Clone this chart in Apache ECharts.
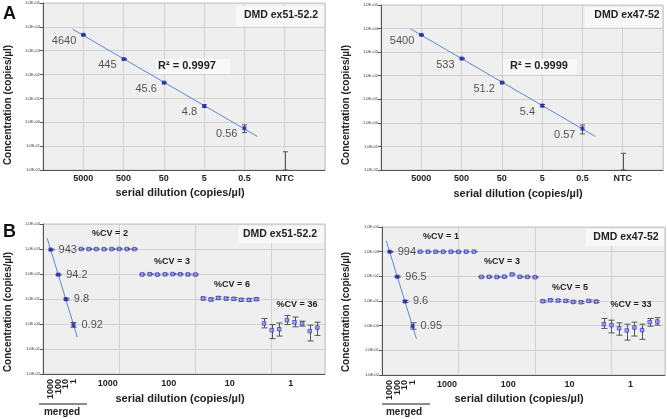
<!DOCTYPE html>
<html><head><meta charset="utf-8">
<script src="https://cdn.jsdelivr.net/npm/echarts@6/dist/echarts.min.js"></script>
<style>html,body{margin:0;padding:0;background:#fff}#c{width:667px;height:419px}</style>
</head><body><div id="c"></div>
<script>
// ---------- data ----------
const dilutionCats = ['5000', '500', '50', '5', '0.5', 'NTC'];

const meanA1 = [4640, 445, 45.6, 4.8, 0.56, null];
const lowA1  = [4380, 422, 43.4, 4.25, 0.37, 0.01];
const highA1 = [4920, 468, 47.9, 5.4, 0.78, 0.058];
const r2A1 = '0.9997';
const nameA1 = 'DMD ex51-52.2';

const meanA2 = [5400, 533, 51.2, 5.4, 0.57, null];
const lowA2  = [5100, 505, 48.6, 4.8, 0.34, 0.01];
const highA2 = [5700, 560, 53.9, 6.0, 0.81, 0.051];
const r2A2 = '0.9999';
const nameA2 = 'DMD ex47-52';

const mergedTicks = ['1000', '100', '10', '1'];
const groupTicks = ['1000', '100', '10', '1'];

const mergedB1   = [943, 94.2, 9.8, 0.92];
const mergedLoB1 = [905, 89.0, 8.9, 0.74];
const mergedHiB1 = [982, 99.5, 10.8, 1.16];
const repMeanB1 = [1000, 990, 985, 980, 990, 1000, 995, 990,
                   96, 98, 95, 97, 99, 98, 96, 95,
                   10.5, 9.6, 11.0, 10.4, 10.2, 9.3, 9.2, 9.8,
                   1.05, 0.57, 0.62, 1.42, 1.18, 1.05, 0.52, 0.72];
const repLoB1 = [965, 955, 950, 945, 955, 965, 960, 955,
                 91, 93, 90, 92, 94, 93, 91, 90,
                 9.3, 8.5, 9.8, 9.3, 9.1, 8.2, 8.1, 8.7,
                 0.70, 0.26, 0.33, 0.95, 0.77, 0.82, 0.21, 0.35];
const repHiB1 = [1035, 1025, 1020, 1015, 1025, 1035, 1030, 1025,
                 101, 103, 100, 102, 104, 103, 101, 100,
                 11.8, 10.8, 12.3, 11.6, 11.4, 10.5, 10.4, 11.0,
                 1.65, 0.95, 1.10, 2.20, 1.90, 1.30, 0.90, 1.18];
const cvB1 = ['2', '3', '6', '36'];

const mergedB2   = [994, 96.5, 9.6, 0.95];
const mergedLoB2 = [955, 91.5, 8.8, 0.72];
const mergedHiB2 = [1035, 101.5, 10.5, 1.30];
const repMeanB2 = [1000, 1000, 995, 1000, 1000, 990, 1000, 1005,
                   95, 96, 94, 97, 120, 96, 95, 92,
                   9.8, 10.7, 10.4, 10.1, 9.2, 8.9, 10.1, 9.5,
                   1.15, 1.05, 0.79, 0.64, 0.84, 0.66, 1.39, 1.47];
const repLoB2 = [975, 975, 970, 975, 975, 965, 975, 980,
                 91, 92, 90, 93, 114, 92, 91, 88,
                 8.9, 9.7, 9.5, 9.2, 8.4, 8.1, 9.2, 8.6,
                 0.77, 0.51, 0.41, 0.26, 0.38, 0.28, 0.95, 1.05];
const repHiB2 = [1025, 1025, 1020, 1025, 1025, 1015, 1025, 1030,
                 99, 100, 98, 101, 126, 100, 99, 96,
                 10.8, 11.8, 11.4, 11.1, 10.1, 9.8, 11.1, 10.4,
                 1.95, 1.67, 1.30, 1.15, 1.39, 1.15, 1.95, 2.10];
const cvB2 = ['1', '3', '5', '33'];

// ---------- helpers ----------
const FONT = '"Liberation Sans", Arial, Helvetica, sans-serif';
const DARK = '#1f23b5';
const TXT = '#222';

function fitLog(xs, ys, x0, x1) {
  const ly = ys.map(v => Math.log10(v));
  const n = xs.length;
  const mx = xs.reduce((a, b) => a + b, 0) / n;
  const my = ly.reduce((a, b) => a + b, 0) / n;
  let sxy = 0, sxx = 0;
  for (let i = 0; i < n; i++) { sxy += (xs[i] - mx) * (ly[i] - my); sxx += (xs[i] - mx) ** 2; }
  const b = sxy / sxx, a = my - b * mx;
  return [[x0, Math.pow(10, a + b * x0)], [x1, Math.pow(10, a + b * x1)]];
}

function errSeries(xi, yi, data, cap) {
  return {
    type: 'custom', xAxisIndex: xi, yAxisIndex: yi, silent: true, z: 2,
    encode: { x: 0, y: [1, 2] },
    data: data,
    renderItem(params, api) {
      const x = api.value(0);
      const p1 = api.coord([x, api.value(2)]);
      const p2 = api.coord([x, api.value(1)]);
      const st = { stroke: '#555', lineWidth: 1 };
      const cx = Math.round(p1[0]) + 0.5;
      return { type: 'group', children: [
        { type: 'line', shape: { x1: cx, y1: p1[1], x2: cx, y2: p2[1] }, style: st },
        { type: 'line', shape: { x1: cx - cap, y1: p1[1], x2: cx + cap, y2: p1[1] }, style: st },
        { type: 'line', shape: { x1: cx - cap, y1: p2[1], x2: cx + cap, y2: p2[1] }, style: st }
      ]};
    }
  };
}

function yAxis(grid) {
  return {
    type: 'log', logBase: 10, gridIndex: grid, interval: 1,
    axisLine: { show: true, lineStyle: { color: '#555', width: 1 } },
    axisTick: { show: true, length: 3, lineStyle: { color: '#555' } },
    splitLine: { show: true, lineStyle: { color: '#d2d2d2', width: 1 } },
    axisLabel: {
      fontSize: 4, color: '#333', margin: 3, fontFamily: FONT,
      formatter: v => {
        const e = Math.round(Math.log10(v));
        return '1.0E' + (e < 0 ? '-' : '+') + String(Math.abs(e)).padStart(2, '0');
      }
    }
  };
}

const gridStyle = { show: true, backgroundColor: '#efefef', borderColor: '#c4c4c4', borderWidth: 1 };

const grids = [
  Object.assign({ left: 43, top: 3, width: 282, height: 167 }, gridStyle),
  Object.assign({ left: 381, top: 5, width: 282, height: 165 }, gridStyle),
  Object.assign({ left: 43, top: 224, width: 282, height: 150 }, gridStyle),
  Object.assign({ left: 382, top: 227, width: 283, height: 148 }, gridStyle)
];

const nA = dilutionCats.length + 1;
function xAxisA(grid) {
  return {
    type: 'value', gridIndex: grid, min: 0, max: nA, interval: 1, position: 'bottom',
    axisLine: { show: true, onZero: false, lineStyle: { color: '#555' } },
    axisTick: { show: false },
    splitLine: { show: true, lineStyle: { color: '#d2d2d2' } },
    axisLabel: {
      fontSize: 9, fontWeight: 'bold', color: TXT, margin: 4, fontFamily: FONT,
      formatter: v => (v >= 1 && v <= dilutionCats.length) ? dilutionCats[v - 1] : ''
    }
  };
}
const nB = mergedTicks.length + repMeanB1.length + 1;
function labelAxis(grid, values, fmt, rotate) {
  return { type: 'value', gridIndex: grid, min: 0, max: nB, position: 'bottom',
    axisLine: { show: false }, axisTick: { show: false }, splitLine: { show: false },
    axisLabel: { customValues: values, rotate: rotate, hideOverlap: false,
      showMinLabel: true, showMaxLabel: true, formatter: fmt,
      fontSize: 9, fontWeight: 'bold', color: TXT, margin: 5, fontFamily: FONT } };
}
function xAxesB(grid) {
  const mFmt = v => mergedTicks[Math.round(v) - 1];
  return [
    { type: 'value', gridIndex: grid, min: 0, max: nB, interval: 10, position: 'bottom',
      axisLine: { show: true, onZero: false, lineStyle: { color: '#555' } },
      axisTick: { show: false }, axisLabel: { show: false },
      splitLine: { show: true, lineStyle: { color: '#d2d2d2' } } },
    labelAxis(grid, mergedTicks.map((t, i) => i + 1).filter(v => v % 2 === 1), mFmt, 90),
    labelAxis(grid, mergedTicks.map((t, i) => i + 1).filter(v => v % 2 === 0), mFmt, 90),
    labelAxis(grid, groupTicks.map((t, g) => mergedTicks.length + 8 * g + 4.5),
      v => groupTicks[Math.round((v - mergedTicks.length - 4.5) / 8)], 0)
  ];
}

function panelA(xi, yi, mean, lo, hi) {
  const pts = mean.map((v, i) => v == null ? null : [i + 1, v]).filter(p => p);
  const xs = pts.map(p => p[0]), ys = pts.map(p => p[1]);
  return [
    { type: 'line', xAxisIndex: xi, yAxisIndex: yi, data: fitLog(xs, ys, 0.73, 5.32),
      symbol: 'none', silent: true, z: 1, lineStyle: { color: '#5a8bd0', width: 1 } },
    errSeries(xi, yi, lo.map((l, i) => [i + 1, l, hi[i]]), 2.5),
    { type: 'scatter', xAxisIndex: xi, yAxisIndex: yi, data: pts, symbol: 'rect', symbolSize: 4,
      z: 3, itemStyle: { color: DARK },
      label: { show: true, position: 'left', distance: 5, offset: [0, 6], fontSize: 11,
        color: '#2a2a2a', fontFamily: FONT, formatter: p => String(p.value[1]) } }
  ];
}

function panelB(xi, yi, merged, mLo, mHi, rep, rLo, rHi) {
  const mpts = merged.map((v, i) => [i + 1, v]);
  const off = merged.length + 1;
  const rpts = rep.map((v, i) => [i + off, v]);
  return [
    { type: 'line', xAxisIndex: xi, yAxisIndex: yi,
      data: fitLog(mpts.map(p => p[0]), merged, 0.55, 4.5),
      symbol: 'none', silent: true, z: 1, lineStyle: { color: '#5a8bd0', width: 1 } },
    errSeries(xi, yi, mLo.map((l, i) => [i + 1, l, mHi[i]]), 3),
    errSeries(xi, yi, rLo.map((l, i) => [i + off, l, rHi[i]]), 3),
    { type: 'scatter', xAxisIndex: xi, yAxisIndex: yi, data: mpts, symbol: 'rect', symbolSize: 4,
      z: 3, itemStyle: { color: DARK },
      label: { show: true, position: 'right', distance: 6, fontSize: 11, color: '#2a2a2a',
        fontFamily: FONT, formatter: p => String(p.value[1]) } },
    { type: 'scatter', xAxisIndex: xi, yAxisIndex: yi, data: rpts, symbol: 'rect', symbolSize: 3.5,
      z: 3, itemStyle: { color: '#a6a6ee', borderColor: '#3a3ad0', borderWidth: 1 } }
  ];
}

// ---------- annotations ----------
function txt(x, y, s, size, bold, extra) {
  return Object.assign({ type: 'text', x: x, y: y, z: 20, silent: true,
    style: { text: s, fontSize: size, fontWeight: bold ? 'bold' : 'normal', fontFamily: FONT,
      fill: TXT, align: 'center', verticalAlign: 'middle' } }, extra || {});
}
function box(x, y, w, h) {
  return { type: 'rect', z: 1, silent: true, shape: { x: x, y: y, width: w, height: h },
    style: { fill: '#f8f8f8' } };
}
const cvPosB1 = [[110, 234], [172, 262], [232, 285], [297, 305]];
const cvPosB2 = [[441, 237], [502, 262], [570, 288], [631, 305]];

const graphics = [
  box(236, 6, 88, 20), box(585, 7, 77, 20), box(156, 59, 74, 15), box(503, 59, 74, 15),
  box(238, 226, 86, 17), box(586, 229, 78, 17),
  txt(3, 14, 'A', 18, true, { style: { text: 'A', fontSize: 18, fontWeight: 'bold', fontFamily: FONT, fill: '#111', align: 'left', verticalAlign: 'middle' } }),
  txt(3, 232, 'B', 18, true, { style: { text: 'B', fontSize: 18, fontWeight: 'bold', fontFamily: FONT, fill: '#111', align: 'left', verticalAlign: 'middle' } }),
  txt(281, 15, nameA1, 10.5, true), txt(627, 15, nameA2, 10.5, true),
  txt(280, 234, nameA1, 10.5, true), txt(626, 237, nameA2, 10.5, true),
  txt(187, 66, 'R² = ' + r2A1, 11, true), txt(539, 66, 'R² = ' + r2A2, 11, true),
  txt(8, 105, 'Concentration (copies/µl)', 10, true, { rotation: Math.PI / 2 }),
  txt(346, 105, 'Concentration (copies/µl)', 10, true, { rotation: Math.PI / 2 }),
  txt(8, 312, 'Concentration (copies/µl)', 10, true, { rotation: Math.PI / 2 }),
  txt(346, 312, 'Concentration (copies/µl)', 10, true, { rotation: Math.PI / 2 }),
  txt(180, 193, 'serial dilution (copies/µl)', 11, true),
  txt(518, 194, 'serial dilution (copies/µl)', 11, true),
  txt(180, 399, 'serial dilution (copies/µl)', 11, true),
  txt(519, 399, 'serial dilution (copies/µl)', 11, true),
  { type: 'line', z: 5, silent: true, shape: { x1: 39, y1: 404, x2: 87, y2: 404 }, style: { stroke: '#666', lineWidth: 1.5 } },
  { type: 'line', z: 5, silent: true, shape: { x1: 382, y1: 404, x2: 430, y2: 404 }, style: { stroke: '#666', lineWidth: 1.5 } },
  txt(62, 412, 'merged', 10, true), txt(404, 412, 'merged', 10, true)
].concat(cvB1.map((c, i) => txt(cvPosB1[i][0], cvPosB1[i][1], '%CV = ' + c, 9, true)))
 .concat(cvB2.map((c, i) => txt(cvPosB2[i][0], cvPosB2[i][1], '%CV = ' + c, 9, true)));

const ax2 = xAxesB(2), ax3 = xAxesB(3);
const option = {
  animation: false,
  backgroundColor: '#fff',
  grid: grids,
  xAxis: [xAxisA(0), xAxisA(1)].concat(ax2, ax3),
  yAxis: [
    Object.assign(yAxis(0), { min: 0.01, max: 100000 }),
    Object.assign(yAxis(1), { min: 0.01, max: 100000 }),
    Object.assign(yAxis(2), { min: 0.01, max: 10000 }),
    Object.assign(yAxis(3), { min: 0.01, max: 10000 })
  ],
  series: [].concat(
    panelA(0, 0, meanA1, lowA1, highA1),
    panelA(1, 1, meanA2, lowA2, highA2),
    panelB(2, 2, mergedB1, mergedLoB1, mergedHiB1, repMeanB1, repLoB1, repHiB1),
    panelB(6, 3, mergedB2, mergedLoB2, mergedHiB2, repMeanB2, repLoB2, repHiB2)
  ),
  graphic: graphics
};
const chart = echarts.init(document.getElementById('c'), null, { renderer: 'canvas' });
chart.setOption(option);
</script></body></html>
